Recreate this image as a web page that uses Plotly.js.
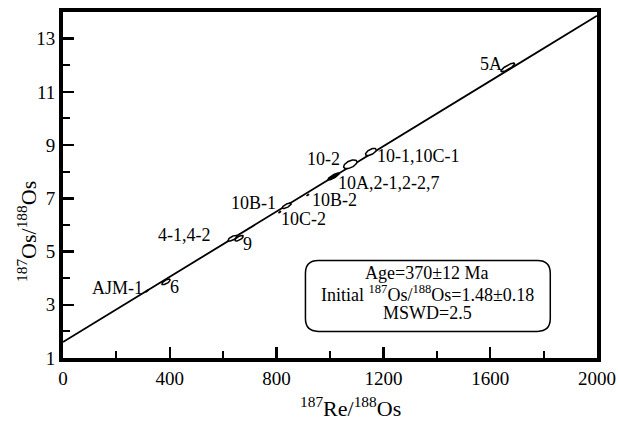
<!DOCTYPE html>
<html>
<head>
<meta charset="utf-8">
<script src="https://cdn.plot.ly/plotly-3.0.1.min.js"></script>
<style>html,body{margin:0;padding:0;background:#fff;}#chart{width:618px;height:422px;}</style>
</head>
<body>
<div id="chart"></div>
<script>
// Sample data (187Re/188Os, 187Os/188Os)
const sampleNames = ["AJM-1", "6", "4-1,4-2", "9", "10C-2", "10B-1", "10B-2", "10A,2-1,2-2,7", "10-2", "10-1,10C-1", "5A"];
const reOs   = [315, 386, 635, 660, 812, 838, 917, 1013, 1076, 1153, 1666];
const osOs   = [3.52, 3.86, 5.50, 5.50, 6.48, 6.72, 7.12, 7.82, 8.28, 8.74, 11.92];
const sigX   = [6, 16, 17, 16, 5, 17, 5, 21, 25, 20, 26];
const sigY   = [0.04, 0.105, 0.105, 0.105, 0.035, 0.105, 0.035, 0.13, 0.165, 0.135, 0.16];
const rho    = [0.9, 0.7, 0.7, 0.7, 0.9, 0.75, 0.9, 0.85, 0.55, 0.6, 0.85];
const filled = [true, false, false, false, true, false, true, true, false, false, false];

// label positions (data units)
const labelX = [308, 395, 560, 668, 810, 805, 925, 1022, 1045, 1170, 1650];
const labelY = [3.62, 3.66, 5.64, 5.30, 6.24, 6.82, 6.94, 7.56, 8.46, 8.60, 12.04];
const labelAnchor = ["right", "left", "right", "left", "left", "right", "left", "left", "right", "left", "right"];

// Isochron line
const lineX = [0, 2000];
const lineY = [1.60, 13.86];

const xTickVals = [0, 400, 800, 1200, 1600, 2000];
const yTickVals = [1, 3, 5, 7, 9, 11, 13];

const traces = [];
traces.push({x: lineX, y: lineY, mode: "lines", line: {color: "#000", width: 1.8}, hoverinfo: "skip", showlegend: false});

for (let i = 0; i < reOs.length; i++) {
  const ex = [], ey = [];
  for (let k = 0; k <= 60; k++) {
    const t = 2 * Math.PI * k / 60;
    ex.push(reOs[i] + sigX[i] * Math.cos(t));
    ey.push(osOs[i] + sigY[i] * (rho[i] * Math.cos(t) + Math.sqrt(1 - rho[i] * rho[i]) * Math.sin(t)));
  }
  traces.push({x: ex, y: ey, mode: "lines", fill: "toself",
    fillcolor: filled[i] ? "#000" : "#fff",
    line: {color: "#000", width: 1.5}, hoverinfo: "skip", showlegend: false});
}

const FAM = "'Liberation Serif', 'DejaVu Serif', serif";
const annotations = sampleNames.map((n, i) => ({
  x: labelX[i], y: labelY[i], xref: "x", yref: "y", text: n, showarrow: false,
  xanchor: labelAnchor[i], yanchor: "middle", font: {family: FAM, size: 18, color: "#000"}
}));

const boxLines = ["Age=370±12 Ma", "Initial <sup>187</sup>Os/<sup>188</sup>Os=1.48±0.18", "MSWD=2.5"];
const boxLineY = [4.18, 3.44, 2.70];
boxLines.forEach((t, i) => annotations.push({
  x: 1365, y: boxLineY[i], xref: "x", yref: "y", text: t, showarrow: false,
  xanchor: "center", yanchor: "middle", font: {family: FAM, size: 18, color: "#000"}
}));

const L = 63, R = 21, T = 12, B = 64, W = 618, H = 422;
const px2paperX = p => (p - L) / (W - L - R);
const px2paperY = p => (H - B - p) / (H - T - B);
annotations.push({x: px2paperX(350), y: px2paperY(407), xref: "paper", yref: "paper",
  xanchor: "center", yanchor: "middle",
  text: "<sup>187</sup>Re/<sup>188</sup>Os", showarrow: false,
  font: {family: FAM, size: 22, color: "#000"}});
annotations.push({x: px2paperX(27), y: px2paperY(232), xref: "paper", yref: "paper",
  xanchor: "center", yanchor: "middle",
  text: "<sup>187</sup>Os/<sup>188</sup>Os", showarrow: false, textangle: -90,
  font: {family: FAM, size: 22, color: "#000"}});

// rounded box in data coords
const bx0 = 908, bx1 = 1825, by0 = 2.0, by1 = 4.66, rx = 48, ry = 0.48;
const boxPath = `M ${bx0 + rx} ${by0} L ${bx1 - rx} ${by0} Q ${bx1} ${by0} ${bx1} ${by0 + ry} L ${bx1} ${by1 - ry} Q ${bx1} ${by1} ${bx1 - rx} ${by1} L ${bx0 + rx} ${by1} Q ${bx0} ${by1} ${bx0} ${by1 - ry} L ${bx0} ${by0 + ry} Q ${bx0} ${by0} ${bx0 + rx} ${by0} Z`;

const layout = {
  width: W, height: H,
  margin: {l: L, r: R, t: T, b: B},
  paper_bgcolor: "#fff", plot_bgcolor: "#fff",
  font: {family: FAM, size: 18, color: "#000"},
  showlegend: false,
  xaxis: {
    range: [0, 2000], tickvals: xTickVals, ticktext: xTickVals.map(String),
    ticks: "inside", ticklen: 11, tickwidth: 2.5, tickcolor: "#000",
    minor: {dtick: 200, tick0: 0, ticks: "inside", ticklen: 7, tickwidth: 2, tickcolor: "#000"},
    showgrid: false, zeroline: false, showline: true, linecolor: "#000", linewidth: 4, mirror: true,
    tickfont: {family: FAM, size: 19, color: "#000"}, fixedrange: true
  },
  yaxis: {
    range: [1, 14], tickvals: yTickVals, ticktext: yTickVals.map(String),
    ticks: "inside", ticklen: 11, tickwidth: 2.5, tickcolor: "#000",
    minor: {dtick: 1, tick0: 0, ticks: "inside", ticklen: 7, tickwidth: 2, tickcolor: "#000"},
    showgrid: false, zeroline: false, showline: true, linecolor: "#000", linewidth: 4, mirror: true,
    tickfont: {family: FAM, size: 19, color: "#000"}, fixedrange: true
  },
  shapes: [{type: "path", xref: "x", yref: "y", path: boxPath, line: {color: "#000", width: 1.5}, fillcolor: "rgba(0,0,0,0)"}],
  annotations: annotations
};

Plotly.newPlot("chart", traces, layout, {displayModeBar: false, staticPlot: true});
</script>
</body>
</html>
